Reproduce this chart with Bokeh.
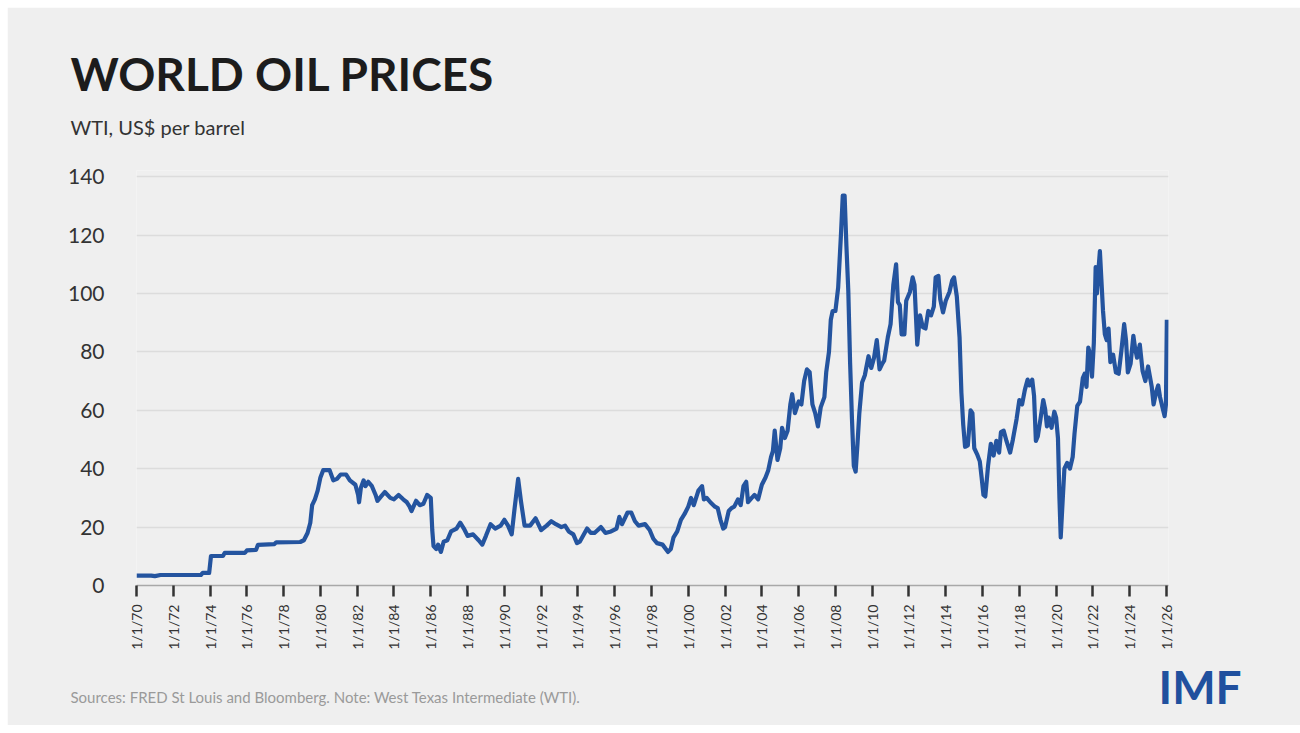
import math
from bokeh.plotting import figure
from bokeh.models import Range1d, FixedTicker, Label
from bokeh.embed import file_html
from bokeh.resources import INLINE

# ---- data (decimal year, WTI US$ per barrel) ----
years_1970s = [1970.0, 1970.8, 1971.0, 1971.3, 1973.5, 1973.6, 1973.95, 1974.05, 1974.7, 1974.8,
               1975.9, 1976.0, 1976.5, 1976.6, 1977.5, 1977.6, 1978.9, 1979.1, 1979.3, 1979.45,
               1979.55, 1979.7, 1979.85]
prices_1970s = [3.4, 3.4, 3.2, 3.6, 3.6, 4.3, 4.3, 10.1, 10.1, 11.2,
                11.2, 12.0, 12.2, 13.9, 14.2, 14.8, 14.9, 15.5, 18.0, 21.5,
                27.5, 29.5, 32.5]

years_1980s = [1980.0, 1980.15, 1980.5, 1980.7, 1980.9, 1981.1, 1981.4, 1981.6, 1981.9, 1982.05,
               1982.1, 1982.2, 1982.35, 1982.45, 1982.6, 1982.8, 1983.0, 1983.1, 1983.3, 1983.5,
               1983.8, 1984.0, 1984.25, 1984.5, 1984.7, 1984.85, 1984.95, 1985.2, 1985.4, 1985.6,
               1985.8, 1986.0, 1986.08, 1986.15, 1986.3, 1986.4, 1986.55, 1986.7, 1986.9, 1987.1,
               1987.4, 1987.6, 1987.8, 1988.0, 1988.3, 1988.6, 1988.8, 1989.0, 1989.25, 1989.5,
               1989.8]
prices_1980s = [37.0, 39.5, 39.5, 36.0, 36.5, 38.0, 38.0, 36.0, 34.5, 31.0,
                28.5, 33.5, 36.0, 34.0, 35.5, 34.0, 31.0, 29.0, 30.5, 32.0,
                30.0, 29.5, 31.0, 29.5, 28.5, 27.0, 25.5, 29.0, 27.5, 28.0,
                31.0, 30.0, 19.0, 13.5, 12.5, 14.0, 11.5, 15.0, 15.5, 18.5,
                19.5, 21.5, 19.5, 17.0, 17.5, 15.5, 14.0, 17.0, 21.0, 19.5,
                20.5]

years_1990s = [1990.0, 1990.2, 1990.4, 1990.55, 1990.75, 1990.9, 1991.1, 1991.4, 1991.7, 1992.0,
               1992.3, 1992.55, 1992.8, 1993.1, 1993.3, 1993.5, 1993.75, 1993.95, 1994.1, 1994.5,
               1994.7, 1994.9, 1995.25, 1995.5, 1995.8, 1996.1, 1996.25, 1996.4, 1996.7, 1996.9,
               1997.1, 1997.3, 1997.65, 1997.9, 1998.1, 1998.3, 1998.6, 1998.9, 1999.05, 1999.2,
               1999.4, 1999.6, 1999.8]
prices_1990s = [22.5, 20.5, 17.5, 26.0, 36.5, 29.0, 20.5, 20.5, 23.0, 19.0,
                20.5, 22.0, 21.0, 20.0, 20.5, 18.5, 17.5, 14.5, 15.0, 19.5,
                18.0, 18.0, 20.0, 18.0, 18.5, 19.5, 23.5, 21.0, 25.0, 25.0,
                22.0, 20.5, 21.0, 19.0, 16.0, 14.5, 14.0, 11.5, 12.5, 16.5,
                18.5, 22.5, 24.5]

years_2000s = [2000.0, 2000.15, 2000.3, 2000.55, 2000.75, 2000.85, 2001.0, 2001.2, 2001.45, 2001.6,
               2001.75, 2001.9, 2002.0, 2002.2, 2002.35, 2002.5, 2002.7, 2002.85, 2003.0, 2003.15,
               2003.25, 2003.45, 2003.6, 2003.8, 2004.0, 2004.2, 2004.35, 2004.5, 2004.6, 2004.7,
               2004.85, 2005.0, 2005.1, 2005.25, 2005.4, 2005.55, 2005.65, 2005.8, 2006.0, 2006.15,
               2006.3, 2006.45, 2006.6, 2006.75, 2006.9, 2007.05, 2007.2, 2007.4, 2007.5, 2007.65,
               2007.75, 2007.85, 2008.0, 2008.15, 2008.3, 2008.4, 2008.5, 2008.6, 2008.7, 2008.8,
               2008.9, 2009.0, 2009.1, 2009.2, 2009.3, 2009.45, 2009.6, 2009.8, 2009.95]
prices_2000s = [27.0, 30.0, 27.5, 32.5, 34.0, 29.5, 30.0, 28.5, 27.0, 26.5,
                22.5, 19.5, 20.0, 25.5, 26.5, 27.0, 29.5, 27.5, 34.0, 35.5,
                28.5, 30.0, 31.0, 29.5, 34.5, 37.0, 39.5, 44.0, 46.0, 53.0,
                43.0, 47.0, 54.0, 50.5, 53.0, 62.0, 65.5, 59.0, 63.0, 62.0,
                70.0, 74.0, 73.0, 62.0, 59.0, 54.5, 61.0, 64.5, 73.0, 80.0,
                91.0, 94.0, 94.0, 102.0, 120.0, 133.5, 133.5, 116.0, 101.0, 76.0,
                57.0, 41.0, 39.0, 48.5, 59.0, 69.5, 72.0, 78.5, 74.5]

years_2010s = [2010.1, 2010.25, 2010.4, 2010.55, 2010.65, 2010.85, 2011.0, 2011.15, 2011.3, 2011.4,
               2011.5, 2011.6, 2011.75, 2011.85, 2012.05, 2012.2, 2012.3, 2012.45, 2012.6, 2012.75,
               2012.9, 2013.05, 2013.2, 2013.35, 2013.45, 2013.6, 2013.7, 2013.85, 2014.0, 2014.2,
               2014.35, 2014.45, 2014.6, 2014.75, 2014.85, 2014.95, 2015.05, 2015.2, 2015.35, 2015.45,
               2015.55, 2015.7, 2015.85, 2015.95, 2016.05, 2016.15, 2016.3, 2016.45, 2016.6, 2016.75,
               2016.9, 2017.0, 2017.15, 2017.3, 2017.5, 2017.65, 2017.85, 2018.0, 2018.15, 2018.3,
               2018.45, 2018.55, 2018.7, 2018.8, 2018.9, 2019.0, 2019.15, 2019.3, 2019.4, 2019.5,
               2019.6, 2019.75, 2019.9]
prices_2010s = [78.0, 84.0, 74.0, 76.0, 77.0, 85.0, 89.5, 103.0, 110.0, 97.0,
                96.0, 86.0, 86.0, 97.5, 100.5, 105.5, 103.0, 82.5, 92.5, 88.5,
                88.0, 94.0, 92.5, 95.5, 105.5, 106.0, 98.0, 93.5, 97.5, 100.5,
                104.5, 105.5, 99.0, 85.0, 66.0, 55.0, 47.5, 48.0, 60.0, 59.0,
                47.0, 45.0, 42.5, 37.0, 31.0, 30.5, 41.0, 48.5, 44.5, 49.5,
                45.5, 52.5, 53.0, 49.5, 45.5, 50.0, 57.0, 63.5, 62.0, 67.0,
                70.5, 68.5, 70.5, 65.0, 49.5, 51.0, 57.0, 63.5, 60.5, 54.5,
                57.5, 54.0, 59.5]

years_2020s = [2020.0, 2020.1, 2020.18, 2020.25, 2020.35, 2020.45, 2020.6, 2020.75, 2020.9, 2021.0,
               2021.15, 2021.3, 2021.45, 2021.55, 2021.65, 2021.75, 2021.85, 2021.95, 2022.05, 2022.15,
               2022.22, 2022.3, 2022.38, 2022.45, 2022.55, 2022.65, 2022.75, 2022.85, 2022.95, 2023.1,
               2023.25, 2023.4, 2023.55, 2023.7, 2023.8, 2023.9, 2024.05, 2024.2, 2024.3, 2024.4,
               2024.55, 2024.7, 2024.85, 2025.0, 2025.1, 2025.2, 2025.3, 2025.45, 2025.55, 2025.65,
               2025.8, 2025.9, 2025.97, 2026.02]
prices_2020s = [57.5, 50.5, 30.0, 16.5, 28.5, 40.0, 42.0, 40.0, 44.0, 52.0,
                61.5, 63.0, 71.0, 72.5, 68.0, 81.5, 79.0, 71.5, 83.0, 109.0,
                100.0, 108.0, 114.5, 106.0, 94.0, 86.0, 84.0, 88.0, 76.5, 79.0,
                73.0, 72.5, 80.5, 89.5, 84.0, 73.0, 76.0, 85.5, 81.0, 78.0,
                82.5, 73.5, 70.0, 75.0, 71.5, 68.0, 62.0, 66.5, 68.5, 64.5,
                60.5, 58.0, 62.0, 91.0]

tick_years = list(range(1970, 2027, 2))
tick_labels = ["1/1/%02d" % (y % 100) for y in tick_years]
y_ticks = [0, 20, 40, 60, 80, 100, 120, 140]

years = years_1970s + years_1980s + years_1990s + years_2000s + years_2010s + years_2020s
prices = prices_1970s + prices_1980s + prices_1990s + prices_2000s + prices_2010s + prices_2020s

BG = "#efefef"
W, H = 1293, 718
PAGE_OFF = 7

p = figure(width=W, height=H, x_range=Range1d(1970, 2026.11), y_range=Range1d(0, 142.1),
           output_backend="svg", toolbar_location=None,
           min_border_left=129, min_border_right=132, min_border_top=163, min_border_bottom=140,
           background_fill_color=BG, border_fill_color=BG, outline_line_color=None)
p.margin = (PAGE_OFF, 0, 8, PAGE_OFF)

p.line(years, prices, line_color="#24549f", line_width=4.2, line_join="round")

# y axis
p.yaxis.ticker = FixedTicker(ticks=y_ticks)
p.yaxis.axis_line_color = None
p.yaxis.major_tick_line_color = None
p.yaxis.minor_tick_line_color = None
p.yaxis.major_label_text_font = "Lato"
p.yaxis.major_label_text_font_size = "21px"
p.yaxis.major_label_text_color = "#333333"
p.yaxis.major_label_standoff = 26

p.ygrid.ticker = FixedTicker(ticks=y_ticks)
p.ygrid.grid_line_color = "#dcdcdc"
p.ygrid.grid_line_width = 1.5
p.xgrid.grid_line_color = None

# x axis
p.xaxis.ticker = FixedTicker(ticks=tick_years)
p.xaxis.major_label_overrides = {y: l for y, l in zip(tick_years, tick_labels)}
p.xaxis.major_label_orientation = math.pi / 2
p.xaxis.axis_line_color = "#a8a8a8"
p.xaxis.axis_line_width = 1.5
p.xaxis.major_tick_line_color = "#333333"
p.xaxis.major_tick_line_width = 2.5
p.xaxis.major_tick_out = 11
p.xaxis.major_tick_in = 0
p.xaxis.minor_tick_line_color = None
p.xaxis.major_label_text_font = "Lato"
p.xaxis.major_label_text_font_size = "14px"
p.xaxis.major_label_text_color = "#333333"
p.xaxis.major_label_standoff = 8

def add_label(page_x, page_y, text, size, color, place, style="normal", font="Lato"):
    # canvas units: pixels from the canvas's top-left corner
    p.add_layout(Label(x=page_x - PAGE_OFF, y=page_y - PAGE_OFF,
                       x_units="canvas", y_units="canvas", text=text,
                       text_font=font, text_font_size=size, text_color=color,
                       text_font_style=style, text_baseline="alphabetic", text_align="left"),
                 place)

add_label(70, 73, "WORLD OIL PRICES", "46px", "#1c1c1c", "above", "bold")
add_label(70, 126, "WTI, US$ per barrel", "20px", "#333333", "above")
add_label(70, 696, "Sources: FRED St Louis and Bloomberg. Note: West Texas Intermediate (WTI).", "15px", "#9a9a9a", "below")
add_label(1158, 686, "IMF", "46px", "#20509e", "below", "bold")

open("out.html", "w").write(file_html(p, INLINE))
